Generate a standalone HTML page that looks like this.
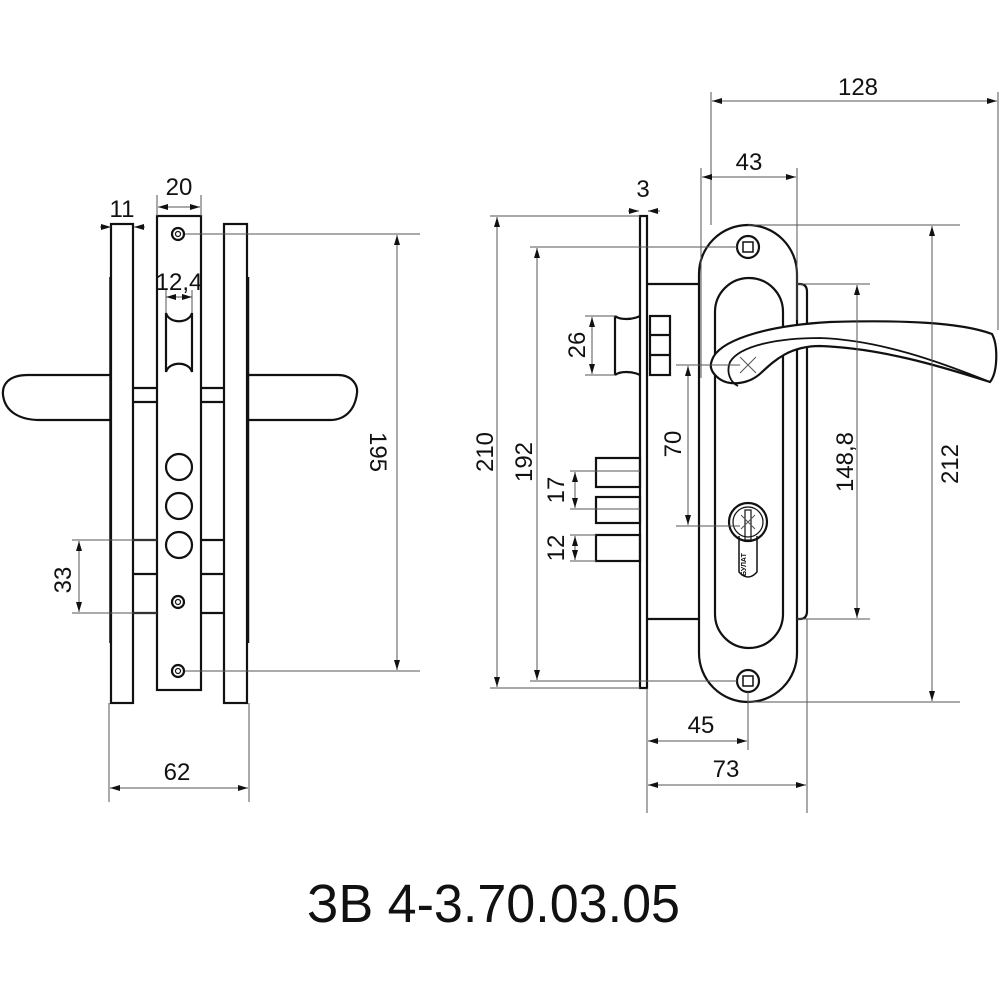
<!DOCTYPE html>
<html><head><meta charset="utf-8"><style>
html,body{margin:0;padding:0;background:#fff;}
svg{display:block;}
text{font-family:"Liberation Sans",sans-serif;fill:#111;}
.k{fill:none;stroke:#111;stroke-width:2.2;}
.t{fill:none;stroke:#555;stroke-width:1;}
</style></head><body>
<svg width="1000" height="1000" viewBox="0 0 1000 1000" xmlns="http://www.w3.org/2000/svg">
<defs>
<marker id="ar" viewBox="0 0 10 6" refX="10" refY="3" markerWidth="10" markerHeight="6" orient="auto-start-reverse" markerUnits="userSpaceOnUse"><path d="M0,0 L10,3 L0,6 Z" fill="#111"/></marker>
</defs>
<g font-size="24">
<!-- ===== LEFT VIEW ===== -->
<path class="k" d="M110,375 L28,375 C8,375 2,385 3,395 C5,412 20,420 40,420 L110,420"/>
<path class="k" d="M249,375 L338,375 C352,375 358,385 357,393 C355,410 345,420 330,420 L249,420"/>
<rect class="k" x="111" y="224" width="22" height="479"/>
<rect class="k" x="224" y="224" width="23" height="479"/>
<line class="k" x1="110" y1="277" x2="110" y2="643" style="stroke-width:1.5"/>
<line class="k" x1="248.5" y1="277" x2="248.5" y2="643" style="stroke-width:1.5"/>
<path class="k" d="M133,388 H157 M133,402 H157 M201,388 H224 M201,402 H224"/>
<path class="k" d="M133,540 H157 M133,574 H157 M133,613 H157 M201,540 H224 M201,574 H224 M201,613 H224"/>
<rect class="k" x="157" y="216" width="44" height="474"/>
<circle class="k" cx="178" cy="234" r="6"/><circle class="k" cx="178" cy="234" r="2.5" style="stroke-width:1.2"/>
<circle class="k" cx="178" cy="602" r="6"/><circle class="k" cx="178" cy="602" r="2.5" style="stroke-width:1.2"/>
<circle class="k" cx="178" cy="671" r="6"/><circle class="k" cx="178" cy="671" r="2.5" style="stroke-width:1.2"/>
<path class="k" d="M166,313 C169,324 189,324 192,313 L192,372 C189,361 169,361 166,372 Z"/>
<circle class="k" cx="179" cy="467" r="13"/>
<circle class="k" cx="179" cy="506" r="13"/>
<circle class="k" cx="179" cy="545" r="13"/>
<line class="t" x1="157" y1="195" x2="157" y2="216"/><line class="t" x1="201" y1="195" x2="201" y2="216"/>
<line class="t" x1="158" y1="207" x2="200" y2="207" marker-start="url(#ar)" marker-end="url(#ar)"/>
<text x="179" y="195" text-anchor="middle">20</text>
<line class="t" x1="100" y1="227" x2="111" y2="227" marker-end="url(#ar)"/>
<line class="t" x1="145" y1="227" x2="134" y2="227" marker-end="url(#ar)"/>
<text x="122" y="217" text-anchor="middle">11</text>
<line class="t" x1="166" y1="297" x2="192" y2="297" marker-start="url(#ar)" marker-end="url(#ar)"/>
<line class="t" x1="166" y1="290" x2="166" y2="313"/><line class="t" x1="192" y1="290" x2="192" y2="313"/>
<text x="179" y="290" text-anchor="middle">12,4</text>
<line class="t" x1="185" y1="234" x2="420" y2="234"/><line class="t" x1="185" y1="671" x2="420" y2="671"/>
<line class="t" x1="397" y1="235" x2="397" y2="670" marker-start="url(#ar)" marker-end="url(#ar)"/>
<text text-anchor="middle" transform="translate(370,452) rotate(90)">195</text>
<line class="t" x1="72" y1="540" x2="157" y2="540"/><line class="t" x1="72" y1="613" x2="157" y2="613"/>
<line class="t" x1="79" y1="541" x2="79" y2="612" marker-start="url(#ar)" marker-end="url(#ar)"/>
<text text-anchor="middle" transform="translate(71,580) rotate(-90)">33</text>
<line class="t" x1="109" y1="703" x2="109" y2="802"/><line class="t" x1="249" y1="703" x2="249" y2="802"/>
<line class="t" x1="110" y1="788" x2="248" y2="788" marker-start="url(#ar)" marker-end="url(#ar)"/>
<text x="177" y="780" text-anchor="middle">62</text>

<!-- ===== RIGHT VIEW ===== -->
<path class="k" d="M647,284 H800 Q807,284 807,292 V611 Q807,619 800,619 H647"/>
<rect class="k" x="640" y="216" width="7" height="472"/>
<path class="k" d="M615,316 C620,320 632,320 640,316 M615,375 C620,371 632,371 640,375 M615,316 V375"/>
<rect class="k" x="650" y="316" width="20" height="59"/>
<path class="k" d="M650,335 H670 M650,355 H670"/>
<rect class="k" x="596" y="458" width="44" height="29"/>
<rect class="k" x="596" y="497" width="44" height="26"/>
<rect class="k" x="596" y="535" width="44" height="26"/>
<rect class="k" x="699" y="225" width="98" height="477" rx="49" style="fill:#fff"/>
<rect class="k" x="715" y="278" width="68" height="370" rx="34"/>
<circle class="k" cx="748" cy="247" r="11"/><rect class="k" x="743" y="242" width="10" height="10" style="stroke-width:1.5"/>
<circle class="k" cx="748" cy="681" r="11"/><rect class="k" x="743" y="676" width="10" height="10" style="stroke-width:1.5"/>
<circle class="k" cx="748" cy="522" r="19"/>
<circle class="k" cx="748" cy="522" r="15" style="stroke-width:1.2"/>
<path class="k" d="M739,536 L739,572 Q748,582 757,572 L757,536" style="stroke-width:1.5"/>
<rect class="k" x="745" y="510" width="6" height="30" style="stroke-width:1.2"/>
<text font-size="7" transform="translate(746,576) rotate(-90)" style="font-weight:bold">БУЛАТ</text>
<path class="t" d="M741,515 L755,529 M755,515 L741,529"/>
<path class="k" d="M712,360 C718,342 760,326 830,322 C900,320 960,322 992,334 C998,345 998,372 990,382 C940,366 880,348 820,346 C790,346 775,360 762,372 C750,384 728,388 716,376 C710,370 710,365 712,360 Z" style="fill:#fff"/>
<path class="k" d="M990,382 C940,362 880,340 820,338 C780,338 740,345 730,362 C726,372 730,382 738,386" style="stroke-width:1.8"/>
<path class="t" d="M740,357 L756,373 M756,357 L740,373"/>
<line class="t" x1="711" y1="92" x2="711" y2="225"/><line class="t" x1="998" y1="92" x2="998" y2="330"/>
<line class="t" x1="712" y1="101" x2="997" y2="101" marker-start="url(#ar)" marker-end="url(#ar)"/>
<text x="858" y="95" text-anchor="middle">128</text>
<line class="t" x1="701" y1="168" x2="701" y2="378"/><line class="t" x1="797" y1="168" x2="797" y2="320"/>
<line class="t" x1="702" y1="177" x2="796" y2="177" marker-start="url(#ar)" marker-end="url(#ar)"/>
<text x="749" y="170" text-anchor="middle">43</text>
<line class="t" x1="628" y1="211" x2="639" y2="211" marker-end="url(#ar)"/>
<line class="t" x1="660" y1="211" x2="648" y2="211" marker-end="url(#ar)"/>
<text x="643" y="197" text-anchor="middle">3</text>
<line class="t" x1="490" y1="216" x2="640" y2="216"/><line class="t" x1="490" y1="688" x2="640" y2="688"/>
<line class="t" x1="497" y1="217" x2="497" y2="687" marker-start="url(#ar)" marker-end="url(#ar)"/>
<text text-anchor="middle" transform="translate(493,452) rotate(-90)">210</text>
<line class="t" x1="530" y1="247" x2="737" y2="247"/><line class="t" x1="530" y1="681" x2="737" y2="681"/>
<line class="t" x1="537" y1="248" x2="537" y2="680" marker-start="url(#ar)" marker-end="url(#ar)"/>
<text text-anchor="middle" transform="translate(532,462) rotate(-90)">192</text>
<line class="t" x1="585" y1="316" x2="615" y2="316"/><line class="t" x1="585" y1="375" x2="615" y2="375"/>
<line class="t" x1="592" y1="317" x2="592" y2="374" marker-start="url(#ar)" marker-end="url(#ar)"/>
<text text-anchor="middle" transform="translate(585,345) rotate(-90)">26</text>
<line class="t" x1="570" y1="471" x2="640" y2="471"/><line class="t" x1="570" y1="509" x2="640" y2="509"/>
<line class="t" x1="575" y1="472" x2="575" y2="508" marker-start="url(#ar)" marker-end="url(#ar)"/>
<text text-anchor="middle" transform="translate(564,490) rotate(-90)">17</text>
<line class="t" x1="570" y1="535" x2="596" y2="535"/><line class="t" x1="570" y1="561" x2="596" y2="561"/>
<line class="t" x1="575" y1="536" x2="575" y2="560" marker-start="url(#ar)" marker-end="url(#ar)"/>
<text text-anchor="middle" transform="translate(564,548) rotate(-90)">12</text>
<line class="t" x1="676" y1="365" x2="740" y2="365"/><line class="t" x1="676" y1="526" x2="740" y2="526"/>
<line class="t" x1="688" y1="366" x2="688" y2="525" marker-start="url(#ar)" marker-end="url(#ar)"/>
<text text-anchor="middle" transform="translate(681,444) rotate(-90)">70</text>
<line class="t" x1="797" y1="284" x2="870" y2="284"/><line class="t" x1="797" y1="619" x2="870" y2="619"/>
<line class="t" x1="857" y1="285" x2="857" y2="618" marker-start="url(#ar)" marker-end="url(#ar)"/>
<text text-anchor="middle" transform="translate(853,462) rotate(-90)">148,8</text>
<line class="t" x1="748" y1="225" x2="960" y2="225"/><line class="t" x1="748" y1="702" x2="960" y2="702"/>
<line class="t" x1="932" y1="226" x2="932" y2="701" marker-start="url(#ar)" marker-end="url(#ar)"/>
<text text-anchor="middle" transform="translate(958,464) rotate(-90)">212</text>
<line class="t" x1="647" y1="688" x2="647" y2="813"/><line class="t" x1="748" y1="692" x2="748" y2="750"/>
<line class="t" x1="807" y1="619" x2="807" y2="813"/>
<line class="t" x1="648" y1="741" x2="747" y2="741" marker-start="url(#ar)" marker-end="url(#ar)"/>
<text x="701" y="733" text-anchor="middle">45</text>
<line class="t" x1="648" y1="785" x2="806" y2="785" marker-start="url(#ar)" marker-end="url(#ar)"/>
<text x="726" y="777" text-anchor="middle">73</text>
</g>
<text x="307" y="922" font-size="54" textLength="373" lengthAdjust="spacingAndGlyphs">ЗВ 4-3.70.03.05</text>
</svg>
</body></html>
